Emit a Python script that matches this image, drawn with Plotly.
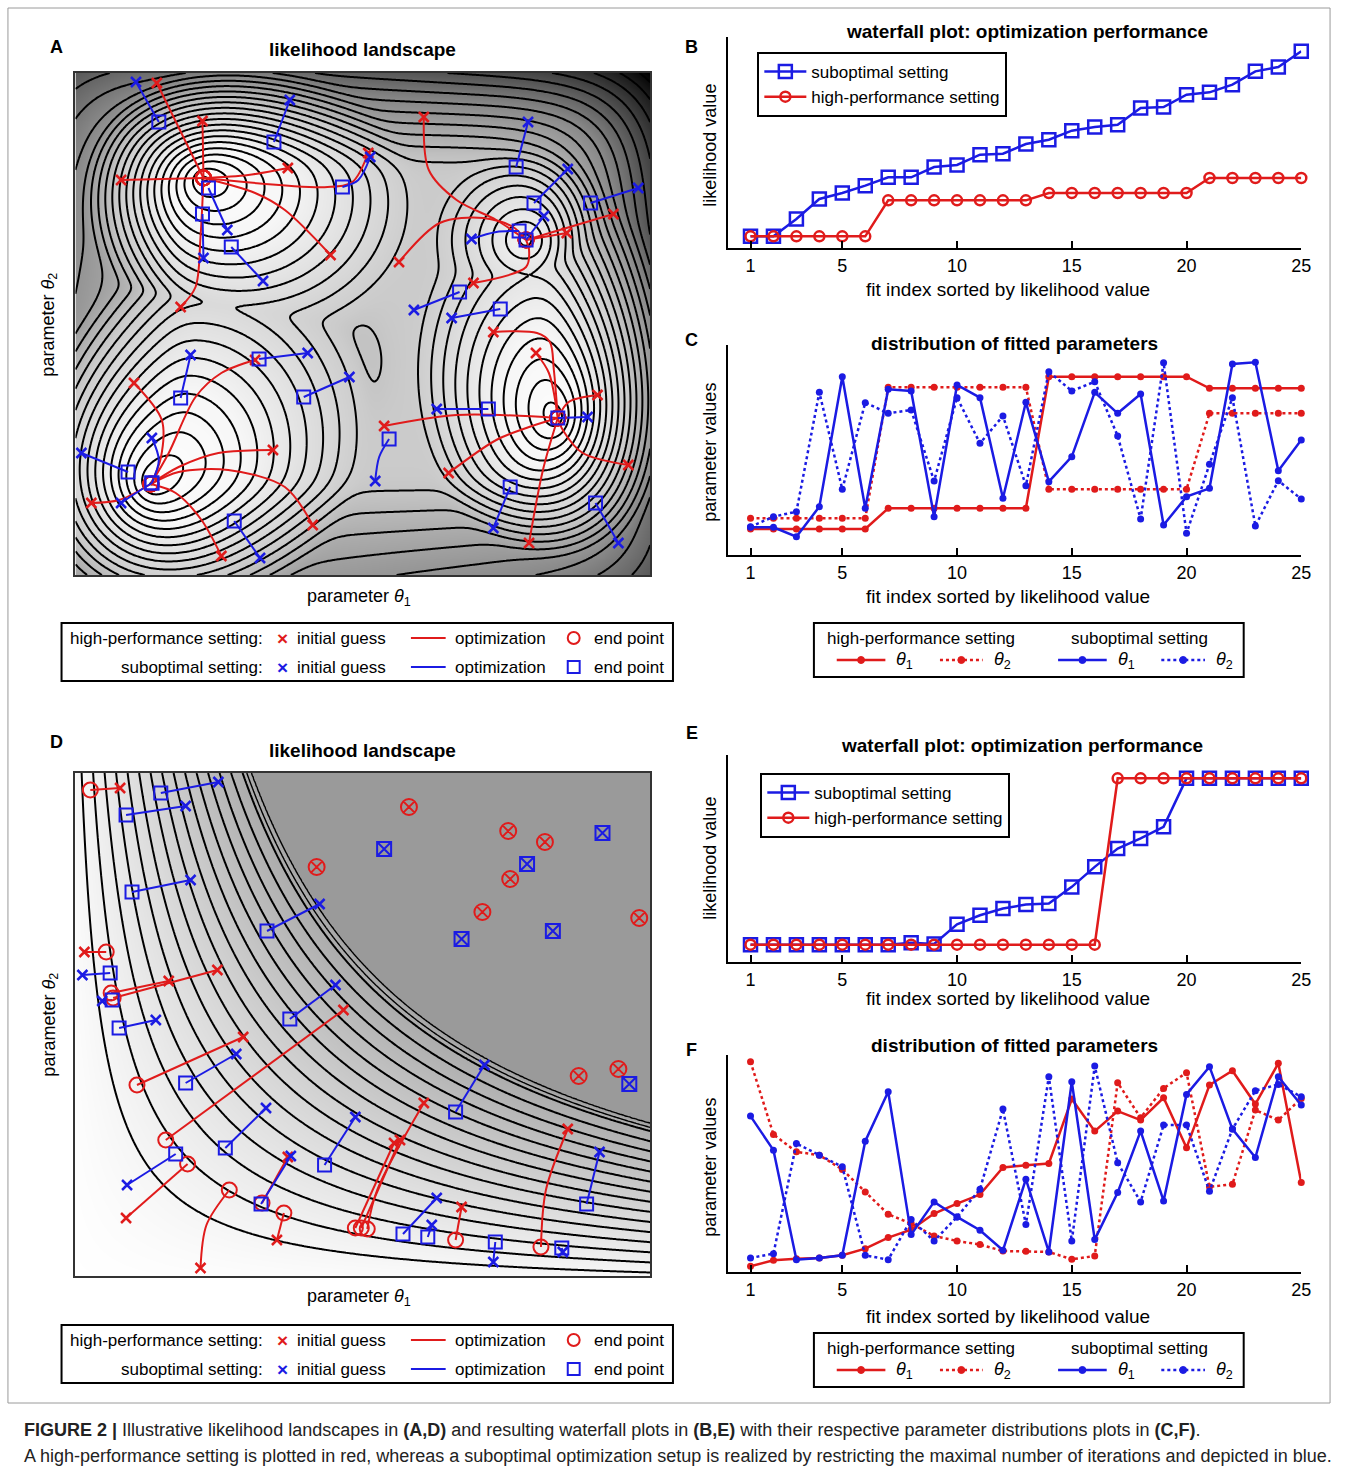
import numpy as np
import plotly.graph_objects as go

W, H = 1347, 1475
RED = '#e01b1b'
BLUE = '#1b1be3'
FONT = 'Liberation Sans, Arial, sans-serif'


def PX(x):
    return x / W


def PY(y):
    return 1 - y / H


# ---------------- data: panel A (likelihood landscape) ----------------
# basins: centre (θ1, θ2), depth, radius along θ1, radius along θ2, skew, skew direction (deg)
A_well_t1 = [1.29, 4.54, 0.76, 4.86]
A_well_t2 = [3.97, 3.35, 0.91, 1.57]
A_well_depth = [12.0, 7.0, 13.0, 12.0]
A_well_r1 = [1.55, 0.95, 1.55, 1.35]
A_well_r2 = [1.30, 0.90, 1.60, 1.75]
A_well_skew = [0.30, 0.0, 0.35, 0.25]
A_well_dir = [-30, 0, 45, 100]
A_bump = [2.80, 2.12, 1.1, 0.23, 0.36]
A_range_t1 = [0, 5.79]
A_range_t2 = [0, 5.02]

A_red_paths = [
    [(0.82, 4.92), (1.29, 3.97)],
    [(1.28, 4.54), (1.29, 3.97)],
    [(0.46, 3.95), (1.29, 3.97)],
    [(2.14, 4.07), (1.74, 4.00), (1.29, 3.97)],
    [(2.57, 3.20), (2.11, 3.65), (1.81, 3.82), (1.29, 3.97)],
    [(1.06, 2.68), (1.21, 2.88), (1.26, 3.38), (1.29, 3.97)],
    [(2.95, 4.22), (2.79, 3.93), (2.54, 3.88), (1.29, 3.97)],
    [(3.51, 4.58), (3.56, 4.05), (3.84, 3.75), (4.24, 3.55), (4.54, 3.35)],
    [(5.42, 3.61), (4.54, 3.35)],
    [(4.95, 3.42), (4.54, 3.35)],
    [(3.26, 3.13), (3.67, 3.52), (4.11, 3.57), (4.41, 3.48), (4.54, 3.35)],
    [(4.01, 2.92), (4.54, 3.08), (4.57, 3.25), (4.54, 3.35)],
    [(0.59, 1.92), (0.87, 1.55), (0.86, 1.17), (0.76, 0.91)],
    [(1.81, 2.15), (1.47, 2.02), (1.21, 1.78), (0.94, 1.22), (0.76, 0.91)],
    [(1.99, 1.25), (1.44, 1.22), (1.04, 1.08), (0.76, 0.91)],
    [(2.39, 0.50), (2.11, 0.88), (1.54, 1.05), (1.04, 1.03), (0.76, 0.91)],
    [(1.47, 0.19), (1.27, 0.55), (1.01, 0.82), (0.76, 0.91)],
    [(0.16, 0.72), (0.44, 0.75), (0.76, 0.91)],
    [(4.21, 2.43), (4.65, 2.42), (4.78, 2.33), (4.82, 2.05), (4.86, 1.57)],
    [(4.64, 2.22), (4.77, 2.02), (4.86, 1.57)],
    [(5.26, 1.80), (4.97, 1.73), (4.86, 1.57)],
    [(5.57, 1.10), (5.11, 1.22), (4.91, 1.45), (4.86, 1.57)],
    [(4.57, 0.32), (4.71, 1.05), (4.86, 1.57)],
    [(3.76, 1.02), (4.24, 1.35), (4.57, 1.48), (4.86, 1.57)],
    [(3.11, 1.49), (3.84, 1.60), (4.86, 1.57)],
]
A_blue_paths = [
    [(0.61, 4.93), (0.84, 4.53)],
    [(2.16, 4.75), (2.00, 4.33)],
    [(1.53, 3.45), (1.34, 3.87)],
    [(1.29, 3.17), (1.28, 3.61)],
    [(1.89, 2.94), (1.57, 3.28)],
    [(2.97, 4.18), (2.85, 3.95), (2.69, 3.88)],
    [(4.56, 4.53), (4.44, 4.08)],
    [(4.96, 4.06), (4.62, 3.72)],
    [(5.67, 3.87), (5.19, 3.72)],
    [(4.72, 3.59), (4.54, 3.35)],
    [(3.99, 3.36), (4.24, 3.43), (4.47, 3.44)],
    [(3.41, 2.65), (3.87, 2.83)],
    [(3.79, 2.57), (4.28, 2.66)],
    [(1.16, 2.20), (1.06, 1.77)],
    [(2.34, 2.22), (1.85, 2.16)],
    [(2.76, 1.98), (2.30, 1.78)],
    [(0.77, 1.37), (0.84, 1.15), (0.77, 0.92)],
    [(0.06, 1.22), (0.53, 1.03)],
    [(0.46, 0.72), (0.61, 0.82), (0.77, 0.92)],
    [(1.86, 0.17), (1.60, 0.54)],
    [(3.64, 1.66), (4.16, 1.66)],
    [(5.16, 1.58), (4.86, 1.57)],
    [(3.02, 0.94), (3.06, 1.18), (3.16, 1.36)],
    [(4.21, 0.47), (4.38, 0.88)],
    [(5.47, 0.32), (5.24, 0.72)],
]

# ---------------- data: panel D (likelihood landscape with plateau) ----------------
D_offset_t1 = 0.15
D_offset_t2 = 0.15
D_plateau = 10.0
D_range_t1 = [0, 5.79]
D_range_t2 = [0, 5.03]

D_red_paths = [
    [(0.45, 4.88), (0.15, 4.86)],
    [(0.09, 3.24), (0.31, 3.24)],
    [(0.94, 2.95), (0.36, 2.83)],
    [(1.43, 3.06), (0.38, 2.78)],
    [(1.69, 2.39), (0.62, 1.91)],
    [(2.70, 2.66), (0.91, 1.36)],
    [(0.51, 0.58), (1.13, 1.12)],
    [(1.26, 0.08), (1.32, 0.51), (1.55, 0.86)],
    [(2.14, 1.19), (1.88, 0.73)],
    [(2.03, 0.36), (2.10, 0.63)],
    [(3.21, 1.33), (2.82, 0.48)],
    [(3.27, 1.36), (2.88, 0.48)],
    [(3.51, 1.73), (3.04, 0.86), (2.94, 0.47)],
    [(3.89, 0.69), (3.83, 0.36)],
    [(4.96, 1.47), (4.74, 0.86), (4.69, 0.29)],
]
D_blue_paths = [
    [(1.44, 4.94), (0.86, 4.83)],
    [(1.11, 4.70), (0.51, 4.61)],
    [(1.16, 3.96), (0.57, 3.84)],
    [(2.46, 3.72), (1.93, 3.45)],
    [(0.07, 3.01), (0.35, 3.03)],
    [(0.27, 2.75), (0.37, 2.76)],
    [(0.81, 2.56), (0.44, 2.48)],
    [(1.62, 2.22), (1.11, 1.93)],
    [(2.62, 2.91), (2.16, 2.57)],
    [(0.52, 0.91), (1.01, 1.22)],
    [(1.92, 1.68), (1.51, 1.28)],
    [(2.17, 1.20), (1.87, 0.72)],
    [(2.82, 1.59), (2.51, 1.11)],
    [(4.12, 2.11), (3.83, 1.64)],
    [(3.64, 0.78), (3.30, 0.42)],
    [(3.59, 0.51), (3.55, 0.39)],
    [(4.21, 0.14), (4.23, 0.34)],
    [(4.91, 0.24), (4.90, 0.28)],
    [(5.28, 1.24), (5.15, 0.72)],
]
D_red_stuck_t1 = [3.36, 2.43, 4.36, 4.73, 4.38, 4.10, 5.68, 5.07, 5.47]
D_red_stuck_t2 = [4.69, 4.09, 4.45, 4.34, 3.97, 3.64, 3.58, 2.00, 2.07]
D_blue_stuck_t1 = [3.11, 3.89, 4.55, 4.81, 5.31, 5.58]
D_blue_stuck_t2 = [4.27, 3.37, 4.12, 3.45, 4.43, 1.92]

# ---------------- data: waterfall and parameter panels ----------------
fit_index = list(range(1, 26))
fit_ticks = [1, 5, 10, 15, 20, 25]

B_subopt = [3.5, 3.5, 8.7, 14.7, 16.5, 18.7, 21.2, 21.2, 24.3, 24.9, 28.0, 28.3, 31.2,
            32.5, 35.2, 36.3, 37.0, 42.0, 42.3, 46.0, 46.7, 49.0, 53.0, 54.3, 59.0]
B_highperf = [3.5] * 6 + [14.3] * 7 + [16.5] * 7 + [21.0] * 5

C_hp_t1 = [7.8] * 6 + [14.0] * 7 + [53.5] * 7 + [50.0] * 5
C_hp_t2 = [11.0] * 6 + [50.3] * 7 + [19.7] * 7 + [42.5] * 5
C_so_t1 = [8.3, 8.3, 5.5, 14.5, 53.5, 14.0, 49.7, 49.2, 11.5, 51.0, 47.2, 17.0, 45.8,
           22.0, 29.5, 48.8, 42.5, 48.3, 9.0, 17.5, 20.0, 57.3, 57.8, 25.3, 34.5]
C_so_t2 = [8.5, 11.5, 13.0, 48.8, 19.7, 45.7, 42.5, 43.5, 22.2, 47.2, 33.5, 41.7, 20.8,
           55.0, 49.2, 52.0, 35.7, 10.8, 57.7, 6.5, 27.2, 47.2, 8.7, 22.3, 16.8]

E_subopt = [5.2, 5.2, 5.2, 5.2, 5.2, 5.2, 5.2, 5.8, 5.4, 11.3, 14.0, 16.0, 17.2, 17.5,
            22.5, 28.5, 34.0, 37.0, 40.5, 55.0, 55.0, 55.0, 55.0, 55.0, 55.0]
E_highperf = [5.2] * 16 + [55.0] * 9

F_hp_t1 = [1.7, 3.5, 4.0, 4.2, 5.0, 7.0, 10.3, 12.7, 17.5, 20.5, 23.2, 31.3, 32.0, 32.5,
           51.8, 42.2, 48.2, 45.5, 52.2, 37.2, 56.0, 60.3, 50.3, 62.5, 26.8]
F_hp_t2 = [63.0, 41.2, 36.0, 35.0, 30.7, 24.0, 17.3, 14.5, 10.8, 9.3, 8.2, 6.3, 6.2, 6.0,
           3.8, 4.8, 56.7, 46.2, 55.0, 59.7, 25.5, 26.3, 48.5, 45.5, 52.0]
F_so_t1 = [46.7, 36.5, 3.7, 4.2, 5.0, 39.2, 54.0, 11.2, 21.0, 16.5, 12.5, 6.5, 27.8, 6.0,
           57.0, 9.7, 23.8, 42.2, 21.3, 53.2, 61.5, 42.8, 34.3, 58.5, 50.0]
F_so_t2 = [4.2, 5.5, 38.5, 35.0, 31.5, 5.0, 3.7, 15.7, 9.3, 16.5, 24.8, 48.8, 14.2, 58.5,
           9.3, 61.7, 32.7, 21.0, 44.0, 44.0, 24.2, 42.8, 54.3, 56.2, 52.5]

# ---------------- figure ----------------
fig = go.Figure()
annotations = []
shapes = []


def add_text(text, x, y, size=16, bold=False, xanchor='center', color='black', angle=0):
    if bold:
        text = '<b>' + text + '</b>'
    annotations.append(dict(text=text, x=PX(x), y=PY(y), xref='paper', yref='paper',
                            xanchor=xanchor, yanchor='middle', showarrow=False,
                            textangle=angle, font=dict(size=size, color=color, family=FONT)))


layout = dict(width=W, height=H, margin=dict(l=0, r=0, t=0, b=0),
              paper_bgcolor='white', plot_bgcolor='white',
              font=dict(family=FONT, size=16, color='black'))


def land_axes(n, x0, x1, y0, y1, xr, yr):
    s = '' if n == 1 else str(n)
    layout['xaxis' + s] = dict(domain=[PX(x0), PX(x1)], range=xr, anchor='y' + s,
                               showline=True, mirror=True, linecolor='#333', linewidth=2,
                               ticks='', showticklabels=False, showgrid=False, zeroline=False)
    layout['yaxis' + s] = dict(domain=[PY(y1), PY(y0)], range=yr, anchor='x' + s,
                               showline=True, mirror=True, linecolor='#333', linewidth=2,
                               ticks='', showticklabels=False, showgrid=False, zeroline=False)


def line_axes(n, y0, y1, yr):
    s = str(n)
    layout['xaxis' + s] = dict(domain=[PX(733), PX(1311)], range=[0, 25], anchor='y' + s,
                               showline=True, linecolor='black', linewidth=2,
                               tickvals=fit_ticks, ticks='inside', ticklen=7, tickwidth=1.5,
                               tickcolor='black', tickfont=dict(size=18),
                               showgrid=False, zeroline=False)
    layout['yaxis' + s] = dict(domain=[PY(y1), PY(y0)], range=yr, anchor='x' + s,
                               showline=True, linecolor='black', linewidth=2,
                               ticks='', showticklabels=False, showgrid=False, zeroline=False)


land_axes(1, 76, 655, 73, 575, A_range_t1, A_range_t2)
line_axes(2, 37, 248, [0, 63.3])
line_axes(3, 345, 555, [0, 63])
land_axes(4, 76, 655, 773, 1276, D_range_t1, D_range_t2)
line_axes(5, 755, 962, [0, 62])
line_axes(6, 1055, 1272, [0, 65])

# ---- landscape A surface: union of skewed conical basins on a plateau, walls at the borders ----
g1 = np.linspace(A_range_t1[0], A_range_t1[1], 300)
g2 = np.linspace(A_range_t2[0], A_range_t2[1], 260)
X, Y = np.meshgrid(g1, g2)
b1, b2, bh, bw1, bw2 = A_bump
pieces = [bh * np.exp(-0.5 * (((X - b1) / bw1) ** 2 + ((Y - b2) / bw2) ** 2))]
for c1, c2, d, r1, r2, sk, ang in zip(A_well_t1, A_well_t2, A_well_depth, A_well_r1, A_well_r2,
                                      A_well_skew, A_well_dir):
    dx = (X - c1) / r1
    dy = (Y - c2) / r2
    rho = np.sqrt(dx ** 2 + dy ** 2)
    proj = dx * np.cos(np.radians(ang)) + dy * np.sin(np.radians(ang))
    pieces.append(d * (rho - sk * proj - 1.0))
T = 0.35
ZA = -T * np.log(np.sum(np.exp(-np.stack(pieces) / T), axis=0))
cu = A_range_t1[1] / 2
cv = A_range_t2[1] / 2
U = (X - cu) / cu
V = (Y - cv) / cv
Q = (np.abs(U) ** 6 + np.abs(V) ** 6) ** (1 / 6)
wsoft = 0.03
ZA += 17 * wsoft * np.log1p(np.exp((Q - 0.64) / wsoft)) * (1 + 0.3 * (U + V))

grayA = [[0, '#ffffff'], [0.22, '#f6f6f6'], [0.5, '#cbcbcb'], [0.72, '#868686'], [1, '#000000']]
fig.add_trace(go.Heatmap(x=g1, y=g2, z=ZA, zmin=-13, zmax=13, colorscale=grayA,
                         showscale=False, showlegend=False, zsmooth='best', hoverinfo='skip',
                         xaxis='x', yaxis='y'))
fig.add_trace(go.Contour(x=g1, y=g2, z=ZA, autocontour=False,
                         contours=dict(start=-12.5, end=30, size=1.0, coloring='none'),
                         line=dict(color='black', width=2, smoothing=1),
                         showscale=False, showlegend=False, hoverinfo='skip', xaxis='x', yaxis='y'))

# ---- landscape D surface ----
h1 = np.linspace(D_range_t1[0], D_range_t1[1], 290)
h2 = np.linspace(D_range_t2[0], D_range_t2[1], 252)
XD, YD = np.meshgrid(h1, h2)
ZD = np.minimum((XD + D_offset_t1) * (YD + D_offset_t2), D_plateau)
grayD = [[0, '#ffffff'], [0.985, '#a9a9a9'], [1.0, '#9a9a9a']]
fig.add_trace(go.Heatmap(x=h1, y=h2, z=ZD, zmin=0, zmax=D_plateau, colorscale=grayD,
                         showscale=False, showlegend=False, zsmooth='best', hoverinfo='skip',
                         xaxis='x4', yaxis='y4'))
fig.add_trace(go.Contour(x=h1, y=h2, z=ZD, autocontour=False,
                         contours=dict(start=1.1, end=9.5, size=0.6, coloring='none'),
                         line=dict(color='black', width=2, smoothing=1),
                         showscale=False, showlegend=False, hoverinfo='skip', xaxis='x4', yaxis='y4'))
fig.add_trace(go.Contour(x=h1, y=h2, z=ZD, autocontour=False,
                         contours=dict(start=9.72, end=9.96, size=0.24, coloring='none'),
                         line=dict(color='black', width=1.4, smoothing=1),
                         showscale=False, showlegend=False, hoverinfo='skip', xaxis='x4', yaxis='y4'))


def add_paths(paths, color, end_symbol, end_size, xa, ya):
    xs, ys = [], []
    for p in paths:
        xs += [q[0] for q in p] + [None]
        ys += [q[1] for q in p] + [None]
    fig.add_trace(go.Scatter(x=xs, y=ys, mode='lines',
                             line=dict(color=color, width=2, shape='spline', smoothing=0.9),
                             showlegend=False, hoverinfo='skip', xaxis=xa, yaxis=ya))
    return ([p[0] for p in paths], [p[-1] for p in paths], color, end_symbol, end_size, xa, ya)


def add_points(info):
    starts, ends, color, sym, size, xa, ya = info
    fig.add_trace(go.Scatter(x=[q[0] for q in starts], y=[q[1] for q in starts], mode='markers',
                             marker=dict(symbol='x-thin', size=10, line=dict(color=color, width=2.5)),
                             showlegend=False, hoverinfo='skip', xaxis=xa, yaxis=ya, cliponaxis=False))
    fig.add_trace(go.Scatter(x=[q[0] for q in ends], y=[q[1] for q in ends], mode='markers',
                             marker=dict(symbol=sym, size=size, color=color, line=dict(color=color, width=2)),
                             showlegend=False, hoverinfo='skip', xaxis=xa, yaxis=ya, cliponaxis=False))


ra = add_paths(A_red_paths, RED, 'circle-open', 15, 'x', 'y')
ba = add_paths(A_blue_paths, BLUE, 'square-open', 13, 'x', 'y')
add_points(ra)
add_points(ba)

rd = add_paths(D_red_paths, RED, 'circle-open', 15, 'x4', 'y4')
bd = add_paths(D_blue_paths, BLUE, 'square-open', 13, 'x4', 'y4')
add_points(rd)
add_points(bd)
fig.add_trace(go.Scatter(x=D_red_stuck_t1, y=D_red_stuck_t2, mode='markers',
                         marker=dict(symbol='circle-x-open', size=16, color=RED, line=dict(color=RED, width=2)),
                         showlegend=False, hoverinfo='skip', xaxis='x4', yaxis='y4'))
fig.add_trace(go.Scatter(x=D_blue_stuck_t1, y=D_blue_stuck_t2, mode='markers',
                         marker=dict(symbol='square-x-open', size=14, color=BLUE, line=dict(color=BLUE, width=2)),
                         showlegend=False, hoverinfo='skip', xaxis='x4', yaxis='y4'))

# ---- waterfall plots ----
for vals_s, vals_h, n, leg in [(B_subopt, B_highperf, 2, 'legend'), (E_subopt, E_highperf, 5, 'legend2')]:
    fig.add_trace(go.Scatter(x=fit_index, y=vals_s, mode='lines+markers', name='suboptimal setting',
                             line=dict(color=BLUE, width=2.5),
                             marker=dict(symbol='square-open', size=13, line=dict(color=BLUE, width=2.5)),
                             legend=leg, legendrank=1, cliponaxis=False, showlegend=True,
                             xaxis='x%d' % n, yaxis='y%d' % n))
    fig.add_trace(go.Scatter(x=fit_index, y=vals_h, mode='lines+markers', name='high-performance setting',
                             line=dict(color=RED, width=2.5),
                             marker=dict(symbol='circle-open', size=10, line=dict(color=RED, width=2.5)),
                             legend=leg, legendrank=2, cliponaxis=False, showlegend=True,
                             xaxis='x%d' % n, yaxis='y%d' % n))

# ---- parameter distribution plots ----
for series, n in [((C_hp_t1, C_hp_t2, C_so_t1, C_so_t2), 3), ((F_hp_t1, F_hp_t2, F_so_t1, F_so_t2), 6)]:
    for vals, color, dash in zip(series, [RED, RED, BLUE, BLUE], ['solid', 'dot', 'solid', 'dot']):
        fig.add_trace(go.Scatter(x=fit_index, y=vals, mode='lines+markers',
                                 line=dict(color=color, width=2.5, dash=dash),
                                 marker=dict(symbol='circle', size=7, color=color),
                                 showlegend=False, hoverinfo='skip', cliponaxis=False,
                                 xaxis='x%d' % n, yaxis='y%d' % n))

layout['legend'] = dict(x=PX(763), y=PY(52), xanchor='left', yanchor='top', bgcolor='white',
                        bordercolor='black', borderwidth=2, font=dict(size=17), tracegroupgap=0,
                        itemwidth=42)
layout['legend2'] = dict(x=PX(766), y=PY(773), xanchor='left', yanchor='top', bgcolor='white',
                         bordercolor='black', borderwidth=2, font=dict(size=17), tracegroupgap=0,
                         itemwidth=42)

# ---- text: titles, labels ----
for letter, x, y in [('A', 57, 47), ('B', 697, 47), ('C', 697, 340), ('D', 57, 742), ('E', 697, 733), ('F', 697, 1050)]:
    add_text(letter, x, y, size=18, bold=True)
add_text('likelihood landscape', 365, 49, size=19, bold=True)
add_text('likelihood landscape', 365, 750, size=19, bold=True)
add_text('waterfall plot: optimization performance', 1035, 32, size=19, bold=True)
add_text('distribution of fitted parameters', 1022, 343, size=19, bold=True)
add_text('waterfall plot: optimization performance', 1030, 745, size=19, bold=True)
add_text('distribution of fitted parameters', 1022, 1045, size=19, bold=True)
for yy in [597, 1297]:
    add_text('parameter <i>θ</i><sub>1</sub>', 362, yy, size=18)
for yy in [325, 1025]:
    add_text('parameter <i>θ</i><sub>2</sub>', 50, yy, size=18, angle=-90)
for yy in [289, 596, 998, 1316]:
    add_text('fit index sorted by likelihood value', 1016, yy, size=19)
add_text('likelihood value', 715, 145, size=18, angle=-90)
add_text('parameter values', 715, 452, size=18, angle=-90)
add_text('likelihood value', 715, 858, size=18, angle=-90)
add_text('parameter values', 715, 1167, size=18, angle=-90)


def rect(x0, y0, x1, y1, color='black', width=2, fill=None):
    shapes.append(dict(type='rect', xref='paper', yref='paper', x0=PX(x0), x1=PX(x1), y0=PY(y1), y1=PY(y0),
                       line=dict(color=color, width=width), fillcolor=fill if fill else 'rgba(0,0,0,0)'))


def seg(x0, y0, x1, y1, color, width=2.5, dash='solid'):
    shapes.append(dict(type='line', xref='paper', yref='paper', x0=PX(x0), x1=PX(x1), y0=PY(y0), y1=PY(y1),
                       line=dict(color=color, width=width, dash=dash)))


def dot(x, y, color, r=3.5):
    shapes.append(dict(type='circle', xref='paper', yref='paper', x0=PX(x - r), x1=PX(x + r), y0=PY(y + r), y1=PY(y - r),
                       line=dict(color=color, width=1), fillcolor=color))


# ---- legends of landscape panels ----
def landscape_legend(top):
    rect(62, top, 678, top + 58)
    r1, r2 = top + 15, top + 44
    add_text('high-performance setting:', 267, r1, size=17, xanchor='right')
    add_text('suboptimal setting:', 267, r2, size=17, xanchor='right')
    for r, col in [(r1, RED), (r2, BLUE)]:
        add_text('<b>×</b>', 285, r, size=19, color=col)
        add_text('initial guess', 297, r, size=17, xanchor='left')
        seg(414, r, 449, r, col, width=2)
        add_text('optimization', 456, r, size=17, xanchor='left')
        add_text('end point', 596, r, size=17, xanchor='left')
    shapes.append(dict(type='circle', xref='paper', yref='paper', x0=PX(572), x1=PX(584), y0=PY(r1 + 6), y1=PY(r1 - 6),
                       line=dict(color=RED, width=2)))
    rect(572, r2 - 6, 584, r2 + 6, color=BLUE, width=2)


landscape_legend(623)
landscape_legend(1325)


# ---- legends of parameter panels ----
def param_legend(top):
    rect(820, top, 1253, top + 54)
    h, r = top + 15, top + 37
    add_text('high-performance setting', 928, h, size=17)
    add_text('suboptimal setting', 1148, h, size=17)
    items = [(843, 892, RED, 'solid', '1'), (947, 990, RED, 'dot', '2'),
             (1066, 1115, BLUE, 'solid', '1'), (1170, 1214, BLUE, 'dot', '2')]
    for x0, x1, col, dash, sub in items:
        seg(x0, r, x1, r, col, width=2.5, dash=dash)
        dot((x0 + x1) / 2, r, col)
        add_text('<i>θ</i><sub>%s</sub>' % sub, x1 + 9, r, size=18, xanchor='left')


param_legend(623)
param_legend(1333)

# ---- outer frame and caption ----
rect(8, 8, 1340, 1403, color='#9a9a9a', width=1)
annotations.append(dict(text='<b>FIGURE 2 |</b> Illustrative likelihood landscapes in <b>(A,D)</b> and resulting waterfall plots in '
                             '<b>(B,E)</b> with their respective parameter distributions plots in <b>(C,F)</b>.',
                        x=PX(22), y=PY(1430), xref='paper', yref='paper', xanchor='left', yanchor='middle',
                        showarrow=False, font=dict(size=18, family=FONT, color='#222')))
annotations.append(dict(text='A high-performance setting is plotted in red, whereas a suboptimal optimization setup is realized by '
                             'restricting the maximal number of iterations and depicted in blue.',
                        x=PX(22), y=PY(1456), xref='paper', yref='paper', xanchor='left', yanchor='middle',
                        showarrow=False, font=dict(size=18, family=FONT, color='#222')))

layout['annotations'] = annotations
layout['shapes'] = shapes
fig.update_layout(**layout)
fig.write_html('out.html')
